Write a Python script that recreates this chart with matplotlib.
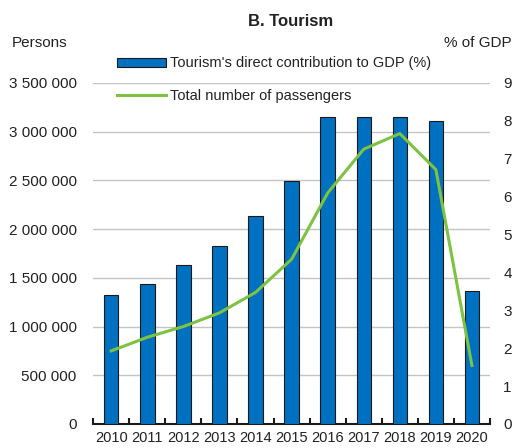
import numpy as np
import matplotlib.pyplot as plt
from matplotlib.ticker import FuncFormatter, FixedLocator

plt.rcParams['font.family'] = ['Liberation Sans', 'DejaVu Sans']

years = ["2010", "2011", "2012", "2013", "2014", "2015", "2016", "2017", "2018", "2019", "2020"]
gdp_share = [3.4, 3.7, 4.2, 4.7, 5.5, 6.4, 8.1, 8.1, 8.1, 8.0, 3.5]
passengers = [750000, 890000, 1000000, 1140000, 1350000, 1690000, 2370000, 2820000, 2980000, 2610000, 600000]

bar_color = "#0070C0"
line_color = "#7DC242"
text_color = "#222222"

fig = plt.figure(figsize=(5.12, 4.48), dpi=100)
ax = fig.add_axes([0.182, 0.0536, 0.775, 0.7614])
x = np.arange(len(years))

# left axis: persons, gridlines
ax.set_ylim(0, 3500000)
ax.set_yticks(np.arange(0, 3500001, 500000))
ax.yaxis.set_major_formatter(FuncFormatter(lambda v, p: f"{v:,.0f}".replace(",", " ")))
ax.grid(axis="y", color="#C4C4C4", linewidth=1)
ax.set_axisbelow(True)
ax.tick_params(axis="y", length=0, labelsize=11, colors=text_color, pad=12)

# right axis: share of GDP, bars
ax2 = ax.twinx()
ax2.bar(x, gdp_share, width=0.4, color=bar_color, edgecolor="#1a1a1a", linewidth=0.8,
        label="Tourism's direct contribution to GDP (%)")
ax2.set_ylim(0, 9)
ax2.set_yticks(range(0, 10))
ax2.tick_params(axis="y", length=0, labelsize=11, colors=text_color, pad=9.5)

# line on top, same scale as left axis
ax3 = ax.twinx()
ax3.plot(x, passengers, color=line_color, linewidth=2.2, label="Total number of passengers")
ax3.set_ylim(ax.get_ylim())
ax3.set_yticks([])

for a in (ax, ax2, ax3):
    for s in ("top", "left", "right", "bottom"):
        a.spines[s].set_visible(False)
ax.spines["bottom"].set_visible(True)
ax.spines["bottom"].set_color("#1a1a1a")
ax.spines["bottom"].set_linewidth(1.5)

ax.set_xlim(-0.5, len(years) - 0.5)
ax.set_xticks(x)
ax.set_xticklabels(years)
ax.xaxis.set_minor_locator(FixedLocator(np.arange(-0.5, len(years), 1.0)))
ax.tick_params(axis="x", which="major", length=0, labelsize=10.5, colors=text_color, pad=5)
ax.tick_params(axis="x", which="minor", length=4, width=1.5, direction="in", color="#1a1a1a")

fig.text(0.568, 0.952, "B. Tourism", ha="center", va="center", fontsize=12,
         fontweight="bold", color=text_color)
fig.text(0.023, 0.904, "Persons", ha="left", va="center", fontsize=11, color=text_color)
fig.text(0.867, 0.904, "% of GDP", ha="left", va="center", fontsize=11, color=text_color)

h2, l2 = ax2.get_legend_handles_labels()
h3, l3 = ax3.get_legend_handles_labels()
fig.legend(h2 + h3, l2 + l3, loc="upper left", bbox_to_anchor=(0.228, 0.874),
           frameon=False, fontsize=10.5, handlelength=3.4, handleheight=0.55,
           labelspacing=1.25, handletextpad=0.25, borderaxespad=0, borderpad=0,
           labelcolor=text_color)

fig.savefig("out.png", dpi=100)
